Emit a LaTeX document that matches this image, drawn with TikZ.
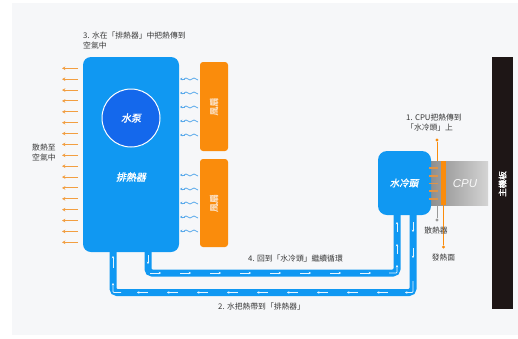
\documentclass[tikz,border=0pt]{standalone}
\usepackage{fontspec}
\setmainfont{Noto Sans CJK TC}
\newfontfamily\cjkbi[FakeSlant=0.2,FakeBold=1.5]{Noto Sans CJK TC}
\newfontfamily\cjkb[FakeBold=1.5]{Noto Sans CJK TC}
\newfontfamily\cpufont{Liberation Sans}
\usetikzlibrary{arrows.meta}
\definecolor{bgc}{RGB}{246,247,249}
\definecolor{radblue}{RGB}{16,152,242}
\definecolor{pumpblue}{RGB}{20,104,236}
\definecolor{fanor}{RGB}{250,140,12}
\definecolor{heator}{RGB}{242,158,64}
\definecolor{wavec}{RGB}{90,170,235}
\definecolor{mbc}{RGB}{30,22,22}
\definecolor{txt}{RGB}{55,55,55}
\definecolor{fantxt}{RGB}{252,222,190}
\tikzset{
  blueblock/.style={fill=radblue, draw=none, rounded corners=8pt},
  fanbox/.style={fill=fanor, draw=none, rounded corners=3pt, minimum width=28pt},
  pipe/.style={draw=radblue, line width=7pt, rounded corners=4pt},
  parrow/.style={draw=white!90!radblue, line width=0.7pt, -{Stealth[length=2.4pt,width=2.6pt]}},
  heatarrow/.style={draw=heator, line width=0.9pt, -{Stealth[length=3.4pt,width=3.6pt]}},
  wave/.style={draw=wavec, line width=0.7pt},
  lbl/.style={text=txt, font=\fontsize{7.8}{9.8}\selectfont, inner sep=0pt, align=left},
  whitetxt/.style={text=white, font=\cjkbi\fontsize{10}{12}\selectfont, inner sep=0pt},
}
\begin{document}
\begin{tikzpicture}[x=1pt,y=-1pt]
\useasboundingbox (0,0) rectangle (518,338);
\fill[white] (0,0) rectangle (518,338);
\fill[bgc] (12,3) rectangle (518,335);

% left heat arrows
\foreach \i in {0,...,16}
  \draw[heatarrow] (78,{68.3+\i*10.875}) -- (62,{68.3+\i*10.875});

% pipes
\coordinate (rin) at (148,248);
\coordinate (rout) at (113,248);
\coordinate (hin) at (397,210);
\coordinate (hout) at (413,210);
\coordinate (yin) at (0,273);
\coordinate (yout) at (0,292.5);
\draw[pipe] (rin) -- (rin |- yin) -- (hin |- yin) -- (hin);
\draw[pipe] (rout) -- (rout |- yout) -- (hout |- yout) -- (hout);
\foreach \x in {150,180,...,360}
  \draw[parrow] (\x,273) -- (\x+11,273);
\foreach \x in {137,167,...,377}
  \draw[parrow] (\x+11,292.5) -- (\x,292.5);
\draw[parrow] (397,232) -- (397,222);
\draw[parrow] (397,254) -- (397,244);
\draw[parrow] (413,222) -- (413,232);
\draw[parrow] (413,248) -- (413,258);
\draw[parrow] (113,268) -- (113,256);
\draw[parrow] (148,255) -- (148,264);
\draw[parrow,rounded corners=1pt] (389,273) -- (397,273) -- (397,265);
\draw[parrow,rounded corners=1pt] (413,281) -- (413,292.5) -- (405,292.5);
\draw[parrow,rounded corners=1pt] (121,292.5) -- (113,292.5) -- (113,283);

% radiator
\node[blueblock, minimum width=96pt, minimum height=195pt] (radiator) at (131,154.5) {};
\node[circle, fill=pumpblue, draw=white, line width=1pt, minimum size=58pt] (pump) at (131,118) {};
\node[whitetxt] (pumptxt) at (pump) {水泵};
\node[whitetxt] (radtxt) at (131,177) {排熱器};

% fans
\node[fanbox, minimum height=89pt] (fan1) at (214,106.5) {};
\node[fanbox, minimum height=88pt] (fan2) at (214,203) {};
\node[rotate=90, text=fantxt, font=\cjkb\fontsize{9}{10}\selectfont, inner sep=0pt] (fan1t) at (fan1) {風扇};
\node[rotate=90, text=fantxt, font=\cjkb\fontsize{9}{10}\selectfont, inner sep=0pt] (fan2t) at (fan2) {風扇};

% waves
\foreach \y in {79,93,107,121,135,175,189,203,217,231}{
  \draw[wave] (184,\y) sin (186,\y-1) cos (188,\y) sin (190,\y+1) cos (192,\y) sin (194,\y-1) cos (196,\y) sin (198,\y+1);
  \draw[wave,-{Stealth[length=2.4pt,width=2.8pt]}] (185,\y) -- (180,\y);
}

% CPU
\shade[left color={rgb,255:red,140;green,140;blue,140}, right color={rgb,255:red,212;green,212;blue,212}] (429,161) rectangle (488,205);
\node[inner sep=0pt, minimum width=47pt, minimum height=44pt] (cpu) at (464.5,183) {};
\node[text=white!95!gray, font=\cpufont\itshape\fontsize{11.5}{12}\selectfont, inner sep=0pt] (cputxt) at (465,184) {CPU};

% cold head
\node[blueblock, rounded corners=9pt, minimum width=53pt, minimum height=64pt] (head) at (404.5,183) {};
\node[whitetxt, font=\cjkbi\fontsize{9.5}{11}\selectfont] (headtxt) at (404,183) {水冷頭};
\foreach \y in {168,175.75,183.5,191.25,199}
  \draw[draw={rgb,255:red,222;green,148;blue,72}, line width=1.6pt] (429,\y) -- (438,\y);

% orange heating surface & leaders
\fill[fanor] (441,161) rectangle (446,205);
\node[circle, fill=fanor, inner sep=0pt, minimum size=3.2pt] (dot1) at (437,140) {};
\draw[fanor, line width=0.9pt] (dot1) -- (437,161);
\node[circle, fill=fanor, inner sep=0pt, minimum size=3.2pt] (dot3) at (443.5,247) {};
\draw[fanor, line width=0.9pt] (443.5,205) -- (dot3);
\node[circle, fill=gray!80, inner sep=0pt, minimum size=3.2pt] (dot2) at (437,220) {};
\draw[gray!80, line width=0.9pt] (437,205) -- (dot2);

% motherboard
\node[fill=mbc, minimum width=21pt, minimum height=252pt, inner sep=0pt] (mb) at (502.5,183) {};
\node[rotate=90, text=white, font=\cjkb\fontsize{8.5}{9}\selectfont, inner sep=0pt] (mbtxt) at (502.5,184) {主機板};

% labels
\node[lbl, anchor=north west] (l3) at (83,32) {3. 水在「排熱器」中把熱傳到\\空氣中};
\node[lbl, anchor=north west] (lair) at (32,144) {散熱至\\空氣中};
\node[lbl, anchor=north west] (l1) at (406,114) {1. CPU把熱傳到\\「水冷頭」上};
\node[lbl, anchor=center] (lsink) at (436,231) {散熱器};
\node[lbl, anchor=center] (lsurf) at (443.5,258) {發熱面};
\node[lbl, anchor=west] (l4) at (248,259) {4. 回到「水冷頭」繼續循環};
\node[lbl, anchor=west] (l2) at (218,307) {2. 水把熱帶到「排熱器」};
\end{tikzpicture}
\end{document}
